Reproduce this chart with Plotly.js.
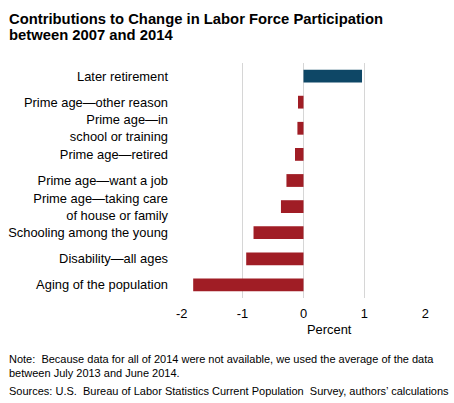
<!DOCTYPE html>
<html>
<head>
<meta charset="utf-8">
<script src="https://cdn.plot.ly/plotly-3.0.1.min.js"></script>
<style>html,body{margin:0;padding:0;background:#fff;}#chart{width:454px;height:403px;}</style>
</head>
<body>
<div id="chart"></div>
<script>
var categories = [
  "Later retirement",
  "Prime age\u2014other reason",
  "Prime age\u2014in<br>school or training",
  "Prime age\u2014retired",
  "Prime age\u2014want a job",
  "Prime age\u2014taking care<br>of house or family",
  "Schooling among the young",
  "Disability\u2014all ages",
  "Aging of the population"
];
var values = [0.96, -0.09, -0.10, -0.14, -0.28, -0.37, -0.82, -0.94, -1.81];
var tickValues = [-2, -1, 0, 1, 2];
var tickLabels = ["-2", "-1", "0", "1", "2"];
var titleLine1 = "Contributions to Change in Labor Force Participation";
var titleLine2 = "between 2007 and 2014";
var axisTitle = "Percent";
var noteLine1 = "Note:  Because data for all of 2014 were not available, we used the average of the data";
var noteLine2 = "between July 2013 and June 2014.";
var sourceLine = "Sources: U.S.  Bureau of Labor Statistics Current Population  Survey, authors\u2019 calculations";

var colors = values.map(function(v){ return v >= 0 ? "#0e4766" : "#a01d25"; });

var L = 181, T = 63, W = 245, H = 235;
function px(x){ return (x - L) / W; }
function py(y){ return (T + H - y) / H; }

var font = "Liberation Sans, Arial, sans-serif";

var trace = {
  type: "bar",
  orientation: "h",
  x: values,
  y: categories,
  marker: { color: colors, line: { width: 0 } },
  width: 0.49,
  hoverinfo: "none"
};

var layout = {
  width: 454,
  height: 403,
  margin: { l: L, r: 454 - L - W, t: T, b: 403 - T - H, pad: 0 },
  paper_bgcolor: "#ffffff",
  plot_bgcolor: "#ffffff",
  showlegend: false,
  font: { family: font, size: 12.9, color: "#000000" },
  xaxis: {
    range: [-2.01, 2.01],
    tickmode: "array",
    tickvals: tickValues,
    ticktext: tickLabels,
    showgrid: true,
    gridcolor: "#d6d6d6",
    gridwidth: 1,
    zeroline: false,
    showline: false,
    ticks: "",
    ticklabelstandoff: 6,
    tickfont: { family: font, size: 12.9, color: "#000000" },
    fixedrange: true
  },
  yaxis: {
    type: "category",
    categoryorder: "array",
    categoryarray: categories,
    range: [8.5, -0.5],
    showgrid: false,
    zeroline: false,
    showline: false,
    ticks: "",
    ticklabelstandoff: 12,
    tickfont: { family: font, size: 12.9, color: "#000000" },
    fixedrange: true
  },
  annotations: [
    { text: titleLine1, xref: "paper", yref: "paper", x: px(7), y: py(9), xanchor: "left", yanchor: "top", showarrow: false,
      font: { family: font, size: 14.8, color: "#000000", weight: "bold" } },
    { text: titleLine2, xref: "paper", yref: "paper", x: px(7), y: py(25), xanchor: "left", yanchor: "top", showarrow: false,
      font: { family: font, size: 14.8, color: "#000000", weight: "bold" } },
    { text: axisTitle, xref: "paper", yref: "paper", x: px(329.5), y: py(329), xanchor: "center", yanchor: "middle", showarrow: false,
      font: { family: font, size: 12.9, color: "#000000" } },
    { text: noteLine1, xref: "paper", yref: "paper", x: px(7), y: py(359), xanchor: "left", yanchor: "middle", showarrow: false,
      font: { family: font, size: 11, color: "#000000" } },
    { text: noteLine2, xref: "paper", yref: "paper", x: px(7), y: py(373), xanchor: "left", yanchor: "middle", showarrow: false,
      font: { family: font, size: 11, color: "#000000" } },
    { text: sourceLine, xref: "paper", yref: "paper", x: px(7), y: py(391), xanchor: "left", yanchor: "middle", showarrow: false,
      font: { family: font, size: 11, color: "#000000" } }
  ]
};

Plotly.newPlot("chart", [trace], layout, { displayModeBar: false, staticPlot: true });
</script>
</body>
</html>
